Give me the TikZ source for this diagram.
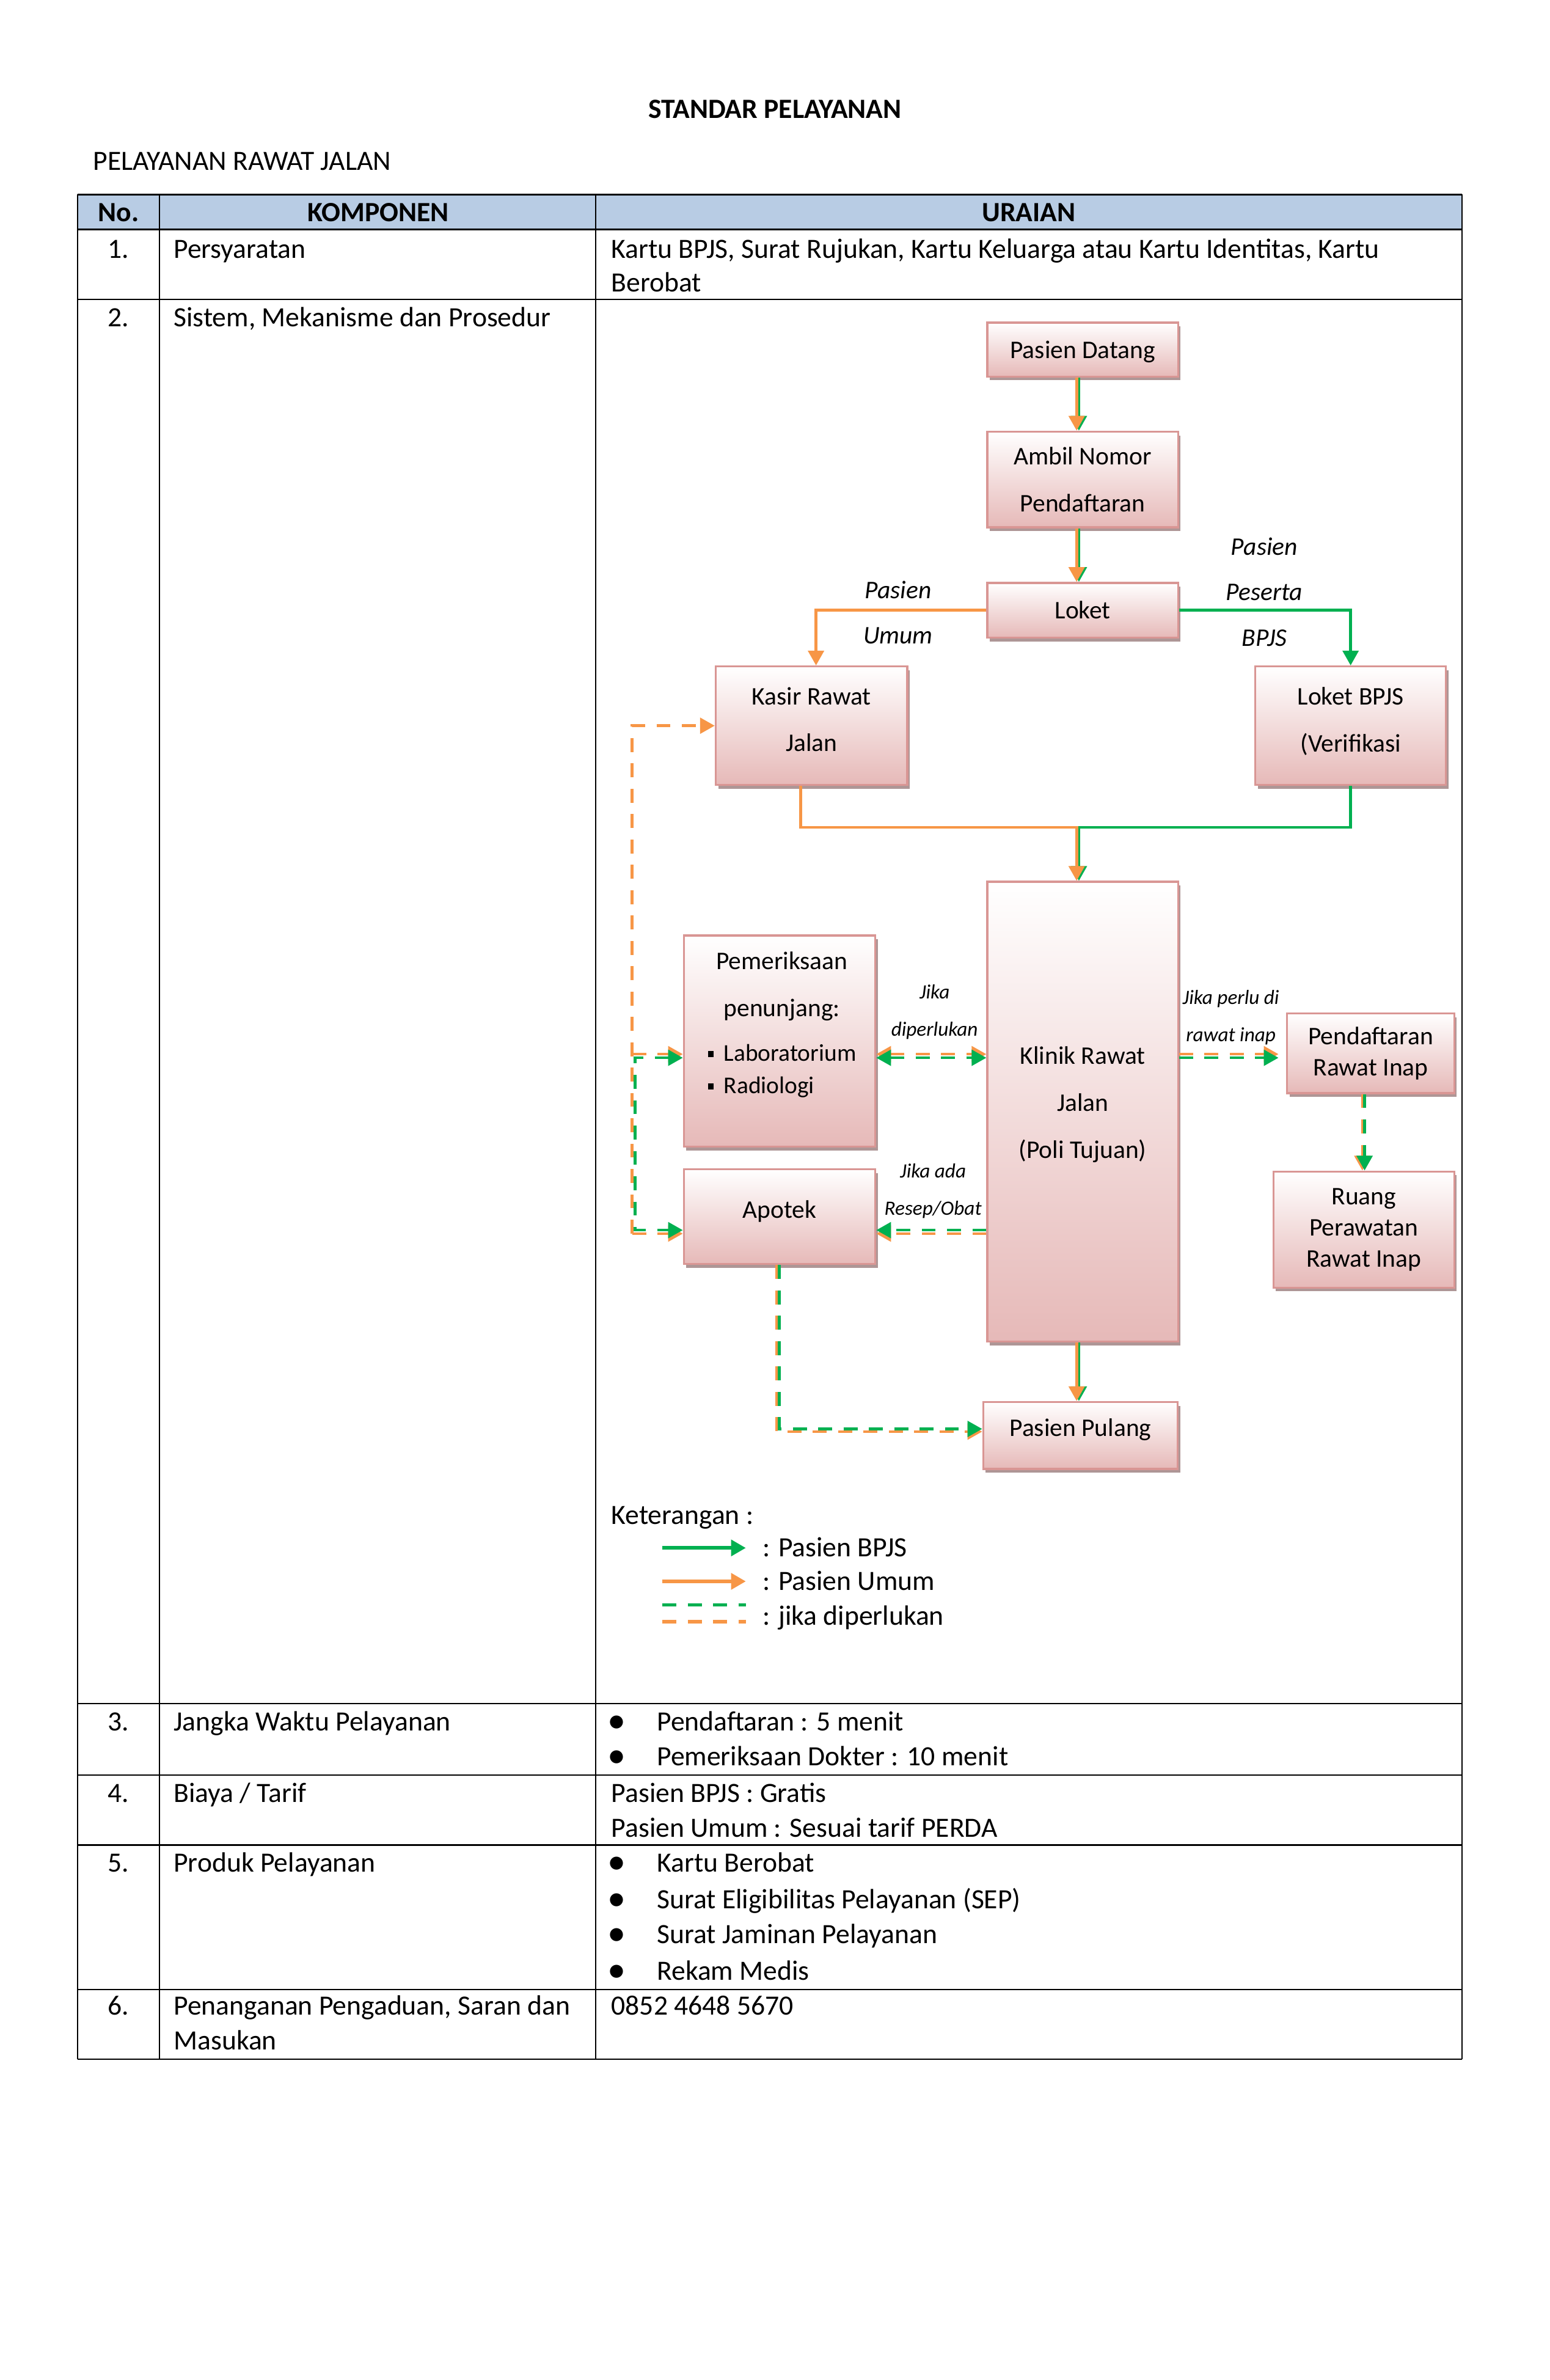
\documentclass[tikz,border=0pt]{standalone}
\usepackage{fontspec}
\setmainfont{Carlito}
\usepackage{tikz}
\usetikzlibrary{arrows.meta,%
                shadows,positioning}

\definecolor{hijau}{HTML}{00B050}
\definecolor{oranye}{HTML}{F79646}
\definecolor{biru}{HTML}{B8CCE4}
\definecolor{merah}{HTML}{E6B9B8}
\definecolor{garis}{HTML}{D99694}
\definecolor{bayang}{HTML}{AE9696}

\tikzset{
  kotak/.style={draw=garis, line width=0.8pt, top color=white, bottom color=merah,
    inner sep=0pt, align=center, font=\fontsize{10}{18.5}\selectfont,
    drop shadow={shadow xshift=1pt, shadow yshift=-1.5pt, fill=bayang, opacity=1}},
  ukuran/.style 2 args={minimum width=#1*0.02108cm, minimum height=#2*0.02108cm},
  teks/.style={anchor=west, inner sep=0pt, text height=9pt, text depth=2pt,
    font=\fontsize{11}{13}\selectfont},
  nomor/.style={teks, anchor=center},
  judul/.style={nomor, font=\fontsize{11}{13}\selectfont\bfseries},
  bulet/.style={inner sep=0pt, font=\fontsize{14.5}{14.5}\selectfont},
  ket/.style={inner sep=0pt, align=center, font=\fontsize{10}{18}\selectfont\itshape},
  ketkecil/.style={inner sep=0pt, align=center, font=\fontsize{8}{14.7}\selectfont\itshape},
  ujung/.style={-{Triangle[length=5.8pt,width=6.2pt]}},
  ujung2/.style={{Triangle[length=5.8pt,width=6.2pt]}-{Triangle[length=5.8pt,width=6.2pt]}},
  umum/.style={draw=oranye, line width=1.1pt, ujung},
  bpjs/.style={draw=hijau, line width=1.1pt, ujung},
  putus/.style={dash pattern=on 5.5pt off 4.5pt},
}

\begin{document}
\begin{tikzpicture}[x=0.02108cm, y=-0.02108cm]
\fill[white] (0,0) rectangle (1020,1566);
\useasboundingbox (0,0) rectangle (1020,1566);

% judul
\node[judul] (judul) at (510,72) {STANDAR PELAYANAN};
\node[teks] (subjudul) at (61,106) {PELAYANAN RAWAT JALAN};

% tabel
\fill[biru] (51,128) rectangle (962,151);
\foreach \y in {128,151,197,1121,1168,1214,1309,1355}
  \draw[line width=0.6pt] (51,\y) -- (962,\y);
\foreach \x in {51,105,392,962}
  \draw[line width=0.45pt] (\x,128) -- (\x,1355);

\node[judul] (hno) at (78,140) {No.};
\node[judul] (hkomp) at (249,140) {KOMPONEN};
\node[judul] (hura) at (677,140) {URAIAN};

\node[nomor] (n1) at (78,164) {1.};
\node[teks] (k1) at (114,164) {Persyaratan};
\node[teks] (u1a) at (402,164) {Kartu BPJS, Surat Rujukan, Kartu Keluarga atau Kartu Identitas, Kartu};
\node[teks] (u1b) at (402,186) {Berobat};

\node[nomor] (n2) at (78,209) {2.};
\node[teks] (k2) at (114,209) {Sistem, Mekanisme dan Prosedur};

\node[nomor] (n3) at (78,1133) {3.};
\node[teks] (k3) at (114,1133) {Jangka Waktu Pelayanan};
\node[bulet] (b3a) at (406,1134.5) {•};
\node[teks] (u3a) at (432,1133) {Pendaftaran : 5 menit};
\node[bulet] (b3b) at (406,1157.5) {•};
\node[teks] (u3b) at (432,1156) {Pemeriksaan Dokter : 10 menit};

\node[nomor] (n4) at (78,1180) {4.};
\node[teks] (k4) at (114,1180) {Biaya / Tarif};
\node[teks] (u4a) at (402,1180) {Pasien BPJS : Gratis};
\node[teks] (u4b) at (402,1203) {Pasien Umum : Sesuai tarif PERDA};

\node[nomor] (n5) at (78,1226) {5.};
\node[teks] (k5) at (114,1226) {Produk Pelayanan};
\node[bulet] (b5a) at (406,1227.5) {•};
\node[teks] (u5a) at (432,1226) {Kartu Berobat};
\node[bulet] (b5b) at (406,1251.5) {•};
\node[teks] (u5b) at (432,1250) {Surat Eligibilitas Pelayanan (SEP)};
\node[bulet] (b5c) at (406,1274.5) {•};
\node[teks] (u5c) at (432,1273) {Surat Jaminan Pelayanan};
\node[bulet] (b5d) at (406,1298.5) {•};
\node[teks] (u5d) at (432,1297) {Rekam Medis};

\node[nomor] (n6) at (78,1320) {6.};
\node[teks] (k6a) at (114,1320) {Penanganan Pengaduan, Saran dan};
\node[teks] (k6b) at (114,1343) {Masukan};
\node[teks] (u6) at (402,1320) {0852 4648 5670};

% alur
\node[kotak, ukuran={125.5}{35.5}, text depth=0pt] (datang) at (712.5,230) {Pasien Datang};
\node[kotak, ukuran={125.5}{63}] (ambil) at (712.5,315.5) {Ambil Nomor\\Pendaftaran};
\node[kotak, ukuran={125.5}{36}] (loket) at (712.5,401.5) {Loket};
\node[kotak, ukuran={126}{78}, text depth=5pt] (kasir) at (534,477.5) {Kasir Rawat\\Jalan};
\node[kotak, ukuran={125.5}{78}, text depth=5pt] (lbpjs) at (888.8,477.5) {Loket BPJS\\(Verifikasi};
\node[kotak, ukuran={125.5}{302.6}, text depth=7.5pt] (klinik) at (712.5,731.5) {Klinik Rawat\\Jalan\\(Poli Tujuan)};
\node[kotak, ukuran={126}{139}] (pem) at (513,685) {};
\node[kotak, ukuran={126}{62.5}, text depth=6pt] (apotek) at (513,800.5) {Apotek};
\node[kotak, ukuran={110}{52.5}, font=\fontsize{10}{12.3}\selectfont] (inap) at (902,693) {Pendaftaran\\Rawat Inap};
\node[kotak, ukuran={119}{76.4}, font=\fontsize{10}{12.3}\selectfont] (ruang) at (897.5,809) {Ruang\\Perawatan\\Rawat Inap};
\node[kotak, ukuran={128}{44}, text depth=6.5pt] (pulang) at (711,944.5) {Pasien Pulang};

\node[inner sep=0pt, align=center, font=\fontsize{10}{18.7}\selectfont] (pemjudul) at (514.5,649) {Pemeriksaan\\penunjang:};
\node[anchor=west, inner sep=0pt, align=left, font=\fontsize{9.5}{12.8}\selectfont] (pemlist) at (465.5,704.5)
  {\rule[1.5pt]{2.3pt}{2.3pt}\hspace{4pt}Laboratorium\\\rule[1.5pt]{2.3pt}{2.3pt}\hspace{4pt}Radiologi};

% keterangan panah
\node[ket] (lumum) at (591,403) {Pasien\\Umum};
\node[ket] (lpeserta) at (832,389.5) {Pasien\\Peserta\\BPJS};
\node[ketkecil] (ljika) at (615,666) {Jika\\diperlukan};
\node[ketkecil] (lrawat) at (810,669.5) {Jika perlu di\\rawat inap};
\node[ketkecil] (lresep) at (614,783.5) {Jika ada\\Resep/Obat};

\coordinate (tulangU) at (708.5,0);
\coordinate (tulangB) at (710,0);
\coordinate (temuU) at (708.5,544.3);
\coordinate (temuB) at (710,544.3);
\coordinate (kiriU) at (416,0);
\coordinate (kiriB) at (418,0);
\coordinate (barislabU) at (0,693.6);
\coordinate (barislabB) at (0,696);
\coordinate (barisapoB) at (0,809.4);
\coordinate (barisapoU) at (0,811.7);
\coordinate (tegakU) at (896.5,0);
\coordinate (tegakB) at (898,0);
\coordinate (belokU) at (511,942);
\coordinate (belokB) at (512.8,940.2);

% panah utama
\draw[bpjs] (datang.south -| tulangB) -- (ambil.north -| tulangB);
\draw[umum] (datang.south -| tulangU) -- (ambil.north -| tulangU);
\draw[bpjs] (ambil.south -| tulangB) -- (loket.north -| tulangB);
\draw[umum] (ambil.south -| tulangU) -- (loket.north -| tulangU);
\draw[umum] (loket.west) -| ([xshift=1.8pt]kasir.north);
\draw[bpjs] (loket.east) -| (lbpjs.north);
\draw[bpjs] (lbpjs.south) |- (temuB) -- (klinik.north -| temuB);
\draw[umum] ([xshift=-4.2pt]kasir.south) |- (temuU) -- (klinik.north -| temuU);
\draw[bpjs] (klinik.south -| tulangB) -- (pulang.north -| tulangB);
\draw[umum] (klinik.south -| tulangU) -- (pulang.north -| tulangU);

% panah jika diperlukan
\draw[umum, putus, ujung2] (pem.east |- barislabU) -- (klinik.west |- barislabU);
\draw[bpjs, putus, ujung2] (pem.east |- barislabB) -- (klinik.west |- barislabB);
\draw[umum, putus] (klinik.west |- barisapoU) -- (apotek.east |- barisapoU);
\draw[bpjs, putus] (klinik.west |- barisapoB) -- (apotek.east |- barisapoB);
\draw[umum, putus, shorten >=3pt] (klinik.east |- barislabU) -- (inap.west |- barislabU);
\draw[bpjs, putus, shorten >=3pt] (klinik.east |- barislabB) -- (inap.west |- barislabB);
\draw[umum, putus] (inap.south -| tegakU) -- (ruang.north -| tegakU);
\draw[bpjs, putus] (inap.south -| tegakB) -- (ruang.north -| tegakB);
\draw[umum, putus] (apotek.south -| belokU) |- (pulang.west |- belokU);
\draw[bpjs, putus] (apotek.south -| belokB) |- (pulang.west |- belokB);
\draw[umum, putus] (kiriU |- barisapoU) |- (kasir.west);
\draw[umum, putus] (kiriU |- barislabU) -- (pem.west |- barislabU);
\draw[umum, putus] (kiriU |- barisapoU) -- (apotek.west |- barisapoU);
\draw[bpjs, putus, ujung2] (pem.west |- barislabB) -| (kiriB |- barisapoB) -- (apotek.west |- barisapoB);

% legenda
\node[teks] (keterangan) at (402,997) {Keterangan :};
\coordinate (lg1) at (436,1018.5);
\node[teks] (lt1) at (501.5,1018.5) {: Pasien BPJS};
\draw[bpjs, line width=1.5pt, shorten >=6.4pt] (lg1) -- (lt1.west);
\coordinate (lg2) at (436,1040.5);
\node[teks] (lt2) at (501.5,1040.5) {: Pasien Umum};
\draw[umum, line width=1.5pt, shorten >=6.4pt] (lg2) -- (lt2.west);
\node[teks] (lt3) at (501.5,1063.5) {: jika diperlukan};
\coordinate (lg3) at (436,1056);
\coordinate (lg4) at (436,1067);
\draw[hijau, line width=1.25pt, putus, shorten >=6.4pt] (lg3) -- (lt3.west |- lg3);
\draw[oranye, line width=1.25pt, putus, shorten >=6.4pt] (lg4) -- (lt3.west |- lg4);
\end{tikzpicture}
\end{document}
